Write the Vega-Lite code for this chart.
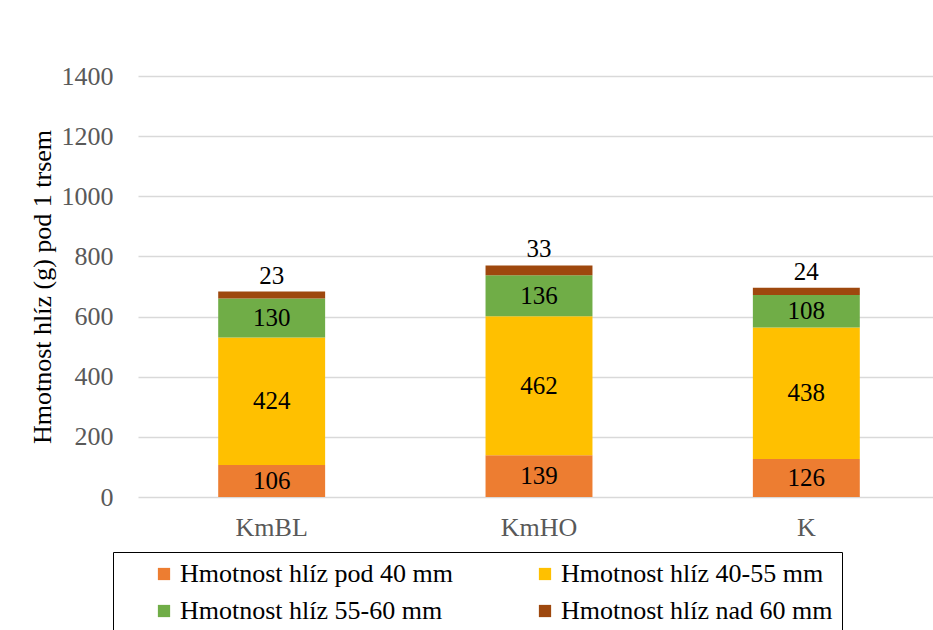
{
  "$schema": "https://vega.github.io/schema/vega-lite/v6.json",
  "autosize": "none",
  "padding": {"left": 138, "top": 76, "right": 0, "bottom": 133},
  "width": 802,
  "height": 421,
  "background": "white",
  "config": {
    "font": "Liberation Serif",
    "view": {"stroke": null}
  },
  "data": {
    "values": [
      {"var": "KmBL", "kat": "Hmotnost hlíz pod 40 mm", "poradi": 1, "hodnota": 106},
      {"var": "KmBL", "kat": "Hmotnost hlíz 40-55 mm", "poradi": 2, "hodnota": 424},
      {"var": "KmBL", "kat": "Hmotnost hlíz 55-60 mm", "poradi": 3, "hodnota": 130},
      {"var": "KmBL", "kat": "Hmotnost hlíz nad 60 mm", "poradi": 4, "hodnota": 23},
      {"var": "KmHO", "kat": "Hmotnost hlíz pod 40 mm", "poradi": 1, "hodnota": 139},
      {"var": "KmHO", "kat": "Hmotnost hlíz 40-55 mm", "poradi": 2, "hodnota": 462},
      {"var": "KmHO", "kat": "Hmotnost hlíz 55-60 mm", "poradi": 3, "hodnota": 136},
      {"var": "KmHO", "kat": "Hmotnost hlíz nad 60 mm", "poradi": 4, "hodnota": 33},
      {"var": "K", "kat": "Hmotnost hlíz pod 40 mm", "poradi": 1, "hodnota": 126},
      {"var": "K", "kat": "Hmotnost hlíz 40-55 mm", "poradi": 2, "hodnota": 438},
      {"var": "K", "kat": "Hmotnost hlíz 55-60 mm", "poradi": 3, "hodnota": 108},
      {"var": "K", "kat": "Hmotnost hlíz nad 60 mm", "poradi": 4, "hodnota": 24}
    ]
  },
  "transform": [
    {"stack": "hodnota", "groupby": ["var"], "sort": [{"field": "poradi", "order": "ascending"}], "as": ["y0", "y1"]},
    {"calculate": "(datum.y0 + datum.y1) / 2", "as": "ymid"}
  ],
  "encoding": {
    "x": {
      "field": "var",
      "type": "nominal",
      "sort": ["KmBL", "KmHO", "K"],
      "scale": {"paddingInner": 0.6, "paddingOuter": 0.3},
      "axis": {
        "title": null,
        "labelAngle": 0,
        "labelFont": "Liberation Serif",
        "labelFontSize": 26,
        "labelColor": "#595959",
        "labelPadding": 17,
        "ticks": false,
        "domain": false
      }
    }
  },
  "layer": [
    {
      "mark": {"type": "bar"},
      "encoding": {
        "y": {
          "field": "y0",
          "type": "quantitative",
          "scale": {"domain": [0, 1400], "nice": false},
          "axis": {
            "title": "Hmotnost  hlíz (g) pod 1 trsem",
            "titleFont": "Liberation Serif",
            "titleFontSize": 26,
            "titleFontWeight": "normal",
            "titleColor": "black",
            "titlePadding": 6,
            "values": [0, 200, 400, 600, 800, 1000, 1200, 1400],
            "format": "d",
            "labelFont": "Liberation Serif",
            "labelFontSize": 26,
            "labelColor": "#595959",
            "labelPadding": 25,
            "ticks": false,
            "domain": false,
            "grid": true,
            "gridColor": "#d9d9d9",
            "gridWidth": 1.5
          }
        },
        "y2": {"field": "y1"},
        "color": {
          "field": "kat",
          "type": "nominal",
          "scale": {
            "domain": ["Hmotnost hlíz pod 40 mm", "Hmotnost hlíz 40-55 mm", "Hmotnost hlíz 55-60 mm", "Hmotnost hlíz nad 60 mm"],
            "range": ["#ED7D31", "#FFC000", "#70AD47", "#9E480E"]
          },
          "legend": {
            "title": null,
            "orient": "none",
            "legendX": -25,
            "legendY": 476,
            "columns": 2,
            "direction": "horizontal",
            "symbolType": "square",
            "symbolSize": 150,
            "symbolStrokeWidth": 0,
            "symbolOffset": 29,
            "labelFont": "Liberation Serif",
            "labelFontSize": 26,
            "labelColor": "black",
            "labelOffset": 3,
            "labelLimit": 400,
            "columnPadding": 50,
            "rowPadding": 11,
            "padding": 9,
            "strokeColor": "black"
          }
        }
      }
    },
    {
      "transform": [{"filter": "datum.poradi < 4"}],
      "mark": {"type": "text", "font": "Liberation Serif", "fontSize": 25, "color": "black", "baseline": "middle"},
      "encoding": {
        "y": {"field": "ymid", "type": "quantitative"},
        "text": {"field": "hodnota", "type": "quantitative"}
      }
    },
    {
      "transform": [{"filter": "datum.poradi == 4"}],
      "mark": {"type": "text", "font": "Liberation Serif", "fontSize": 25, "color": "black", "baseline": "bottom", "dy": -3},
      "encoding": {
        "y": {"field": "y1", "type": "quantitative"},
        "text": {"field": "hodnota", "type": "quantitative"}
      }
    }
  ]
}
